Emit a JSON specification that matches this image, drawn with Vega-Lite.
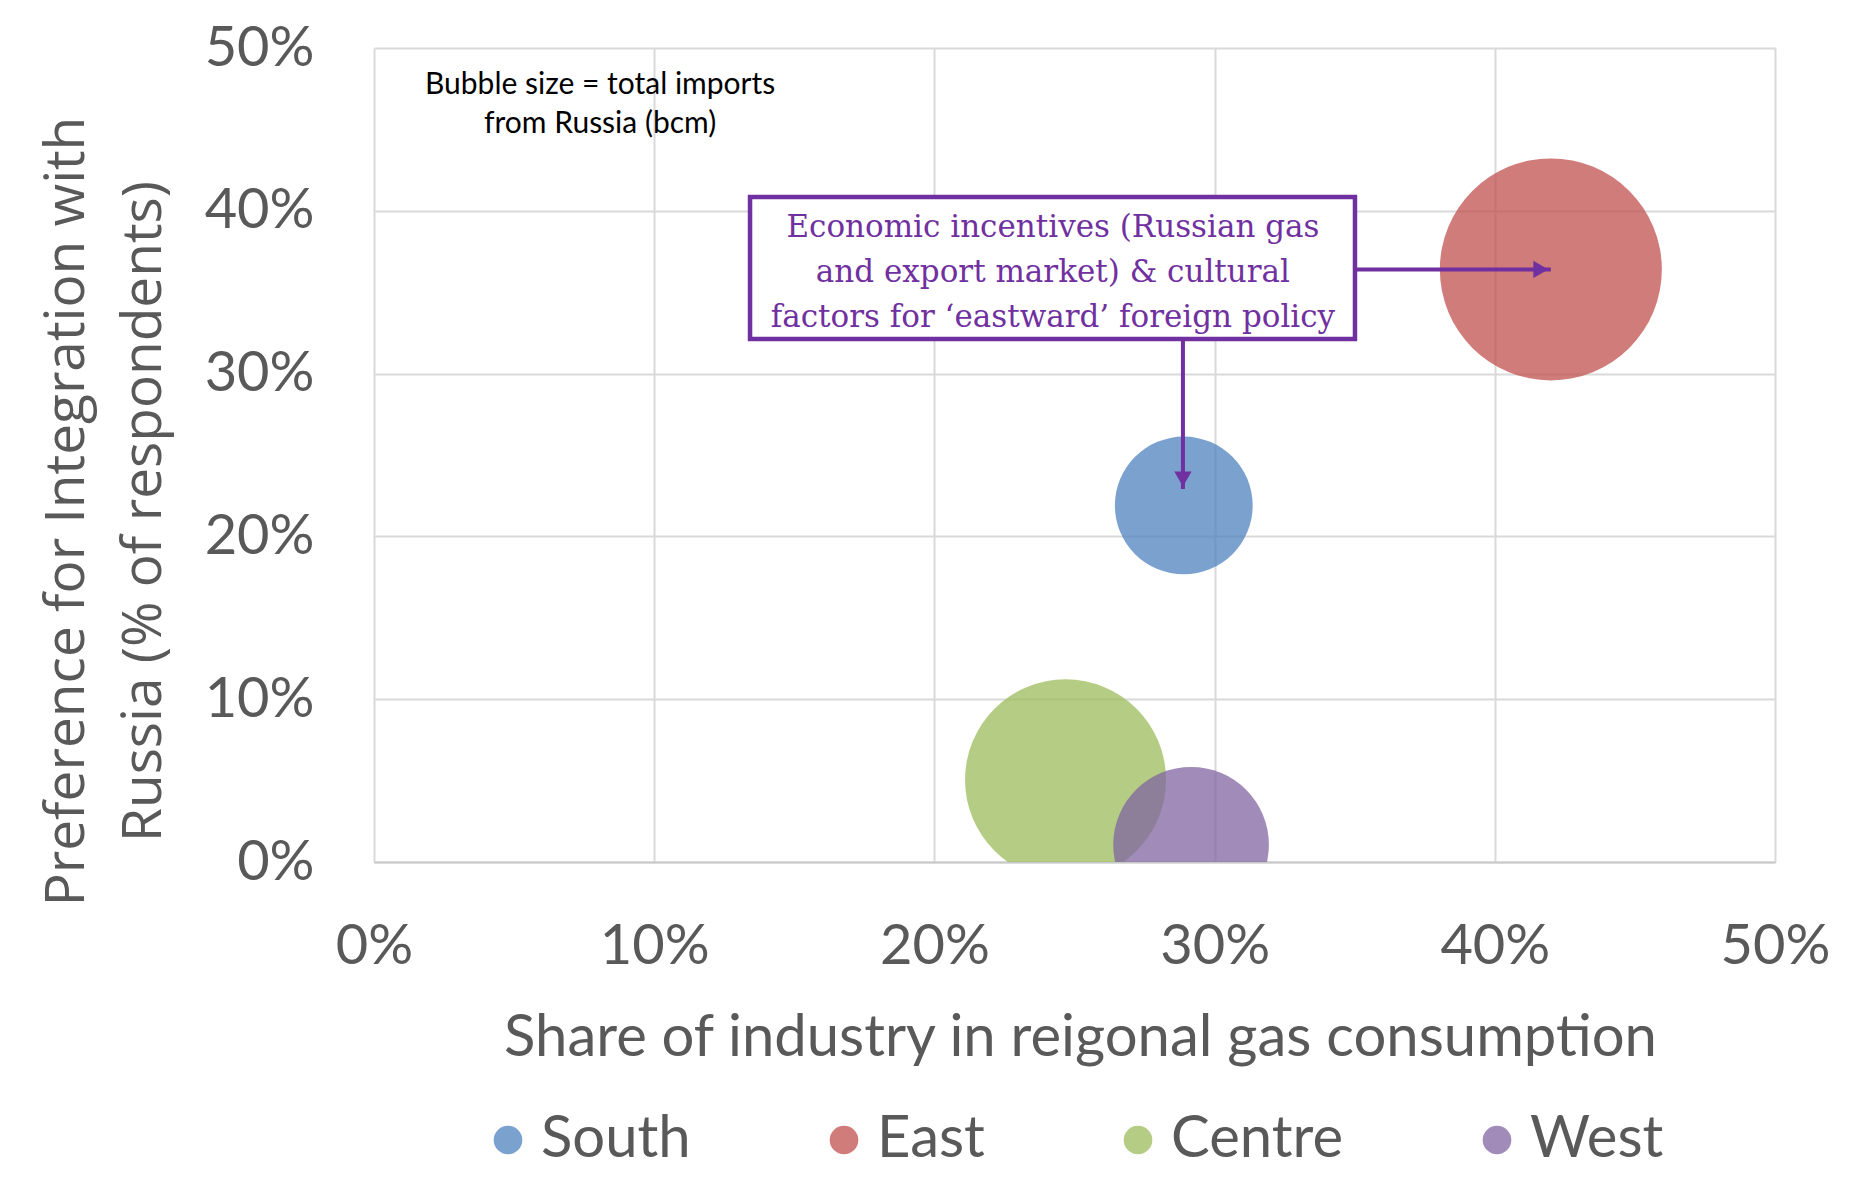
{
  "$schema": "https://vega.github.io/schema/vega-lite/v6.json",
  "width": 1401,
  "height": 814,
  "autosize": {"type": "none"},
  "padding": {"left": 374, "top": 48, "right": 83, "bottom": 315},
  "background": "white",
  "config": {
    "view": {"stroke": null},
    "font": "Lato",
    "axis": {
      "grid": true,
      "gridColor": "#d9d9d9",
      "gridWidth": 2,
      "ticks": false,
      "tickSize": 0,
      "labelFont": "Lato",
      "labelFontSize": 56,
      "labelColor": "#595959",
      "labelFlush": false,
      "labelOverlap": false,
      "titleColor": "#595959",
      "titleFontWeight": "normal"
    }
  },
  "datasets": {
    "regions": [
      {"region": "South", "industry_share": 0.289, "pref_russia": 0.219, "imports_bcm": 4.7},
      {"region": "East", "industry_share": 0.42, "pref_russia": 0.364, "imports_bcm": 12.2},
      {"region": "Centre", "industry_share": 0.2468, "pref_russia": 0.0505, "imports_bcm": 10.0},
      {"region": "West", "industry_share": 0.2916, "pref_russia": 0.0106, "imports_bcm": 6.0}
    ]
  },
  "layer": [
    {
      "data": {"name": "regions"},
      "mark": {"type": "circle", "opacity": 0.75, "clip": true, "strokeWidth": 0},
      "encoding": {
        "x": {
          "field": "industry_share",
          "type": "quantitative",
          "scale": {"domain": [0, 0.5], "nice": false},
          "axis": {
            "title": "Share of industry in reigonal gas consumption",
            "values": [0, 0.1, 0.2, 0.3, 0.4, 0.5],
            "format": ".0%",
            "domain": true,
            "domainColor": "#c9c9c9",
            "domainWidth": 2,
            "labelBaseline": "alphabetic",
            "labelPadding": 101,
            "titleFont": "Lato",
            "titleFontSize": 58,
            "titleX": 706,
            "titleY": 193,
            "titleAlign": "center",
            "titleBaseline": "alphabetic"
          }
        },
        "y": {
          "field": "pref_russia",
          "type": "quantitative",
          "scale": {"domain": [0, 0.5], "nice": false},
          "axis": {
            "title": ["Preference for Integration with", "Russia (% of respondents)"],
            "values": [0, 0.1, 0.2, 0.3, 0.4, 0.5],
            "format": ".0%",
            "domain": false,
            "labelBaseline": "middle",
            "labelPadding": 60,
            "titleFont": "Open Sans",
            "titleFontSize": 55,
            "titleLineHeight": 77,
            "titleAngle": 270,
            "titleX": -291,
            "titleY": 463,
            "titleAlign": "center",
            "titleBaseline": "alphabetic"
          }
        },
        "size": {
          "field": "imports_bcm",
          "type": "quantitative",
          "scale": {"domain": [0, 12.2], "range": [0, 49284]},
          "legend": null
        },
        "color": {
          "field": "region",
          "type": "nominal",
          "scale": {
            "domain": ["South", "East", "Centre", "West"],
            "range": ["#4f81bd", "#c0504d", "#9bbb59", "#8064a2"]
          },
          "legend": {
            "title": null,
            "orient": "none",
            "direction": "horizontal",
            "legendX": 105,
            "legendY": 1063,
            "padding": 0,
            "symbolType": "circle",
            "symbolSize": 820,
            "symbolOpacity": 0.75,
            "symbolStrokeWidth": 0,
            "labelFont": "Lato",
            "labelFontSize": 58,
            "labelColor": "#595959",
            "labelOffset": 4,
            "labelLimit": 0,
            "columnPadding": 124
          }
        }
      }
    },
    {
      "data": {"values": [{"note": "box"}]},
      "mark": {"type": "rect", "fill": "white", "stroke": "#7030a0", "strokeWidth": 4.5},
      "encoding": {
        "x": {"datum": 0.1342, "type": "quantitative"},
        "x2": {"datum": 0.3501},
        "y": {"datum": 0.4085, "type": "quantitative"},
        "y2": {"datum": 0.3213}
      }
    },
    {
      "data": {"values": [{"note": "Economic incentives (Russian gas|and export market) & cultural|factors for \u2018eastward\u2019 foreign policy"}]},
      "mark": {
        "type": "text",
        "font": "DejaVu Serif",
        "fontSize": 31,
        "lineHeight": 45,
        "lineBreak": "|",
        "align": "center",
        "baseline": "alphabetic",
        "color": "#7030a0"
      },
      "encoding": {
        "x": {"datum": 0.2423, "type": "quantitative"},
        "y": {"datum": 0.3839, "type": "quantitative"},
        "text": {"field": "note", "type": "nominal"}
      }
    },
    {
      "data": {"values": [{"note": "to East"}]},
      "mark": {"type": "rule", "color": "#7030a0", "strokeWidth": 4},
      "encoding": {
        "x": {"datum": 0.3501, "type": "quantitative"},
        "x2": {"datum": 0.42},
        "y": {"datum": 0.364, "type": "quantitative"}
      }
    },
    {
      "data": {"values": [{"note": "to East"}]},
      "mark": {"type": "point", "shape": "triangle-right", "filled": true, "color": "#7030a0", "opacity": 1, "size": 300, "xOffset": -10},
      "encoding": {
        "x": {"datum": 0.42, "type": "quantitative"},
        "y": {"datum": 0.364, "type": "quantitative"}
      }
    },
    {
      "data": {"values": [{"note": "to South"}]},
      "mark": {"type": "rule", "color": "#7030a0", "strokeWidth": 4},
      "encoding": {
        "x": {"datum": 0.2887, "type": "quantitative"},
        "y": {"datum": 0.3213, "type": "quantitative"},
        "y2": {"datum": 0.2291}
      }
    },
    {
      "data": {"values": [{"note": "to South"}]},
      "mark": {"type": "point", "shape": "triangle-down", "filled": true, "color": "#7030a0", "opacity": 1, "size": 300, "yOffset": -10},
      "encoding": {
        "x": {"datum": 0.2887, "type": "quantitative"},
        "y": {"datum": 0.2291, "type": "quantitative"}
      }
    },
    {
      "data": {"values": [{"note": "Bubble size = total imports|from Russia (bcm)"}]},
      "mark": {
        "type": "text",
        "font": "Lato",
        "fontSize": 30,
        "lineHeight": 39,
        "lineBreak": "|",
        "align": "center",
        "baseline": "alphabetic",
        "color": "black"
      },
      "encoding": {
        "x": {"datum": 0.0807, "type": "quantitative"},
        "y": {"datum": 0.4716, "type": "quantitative"},
        "text": {"field": "note", "type": "nominal"}
      }
    }
  ]
}
